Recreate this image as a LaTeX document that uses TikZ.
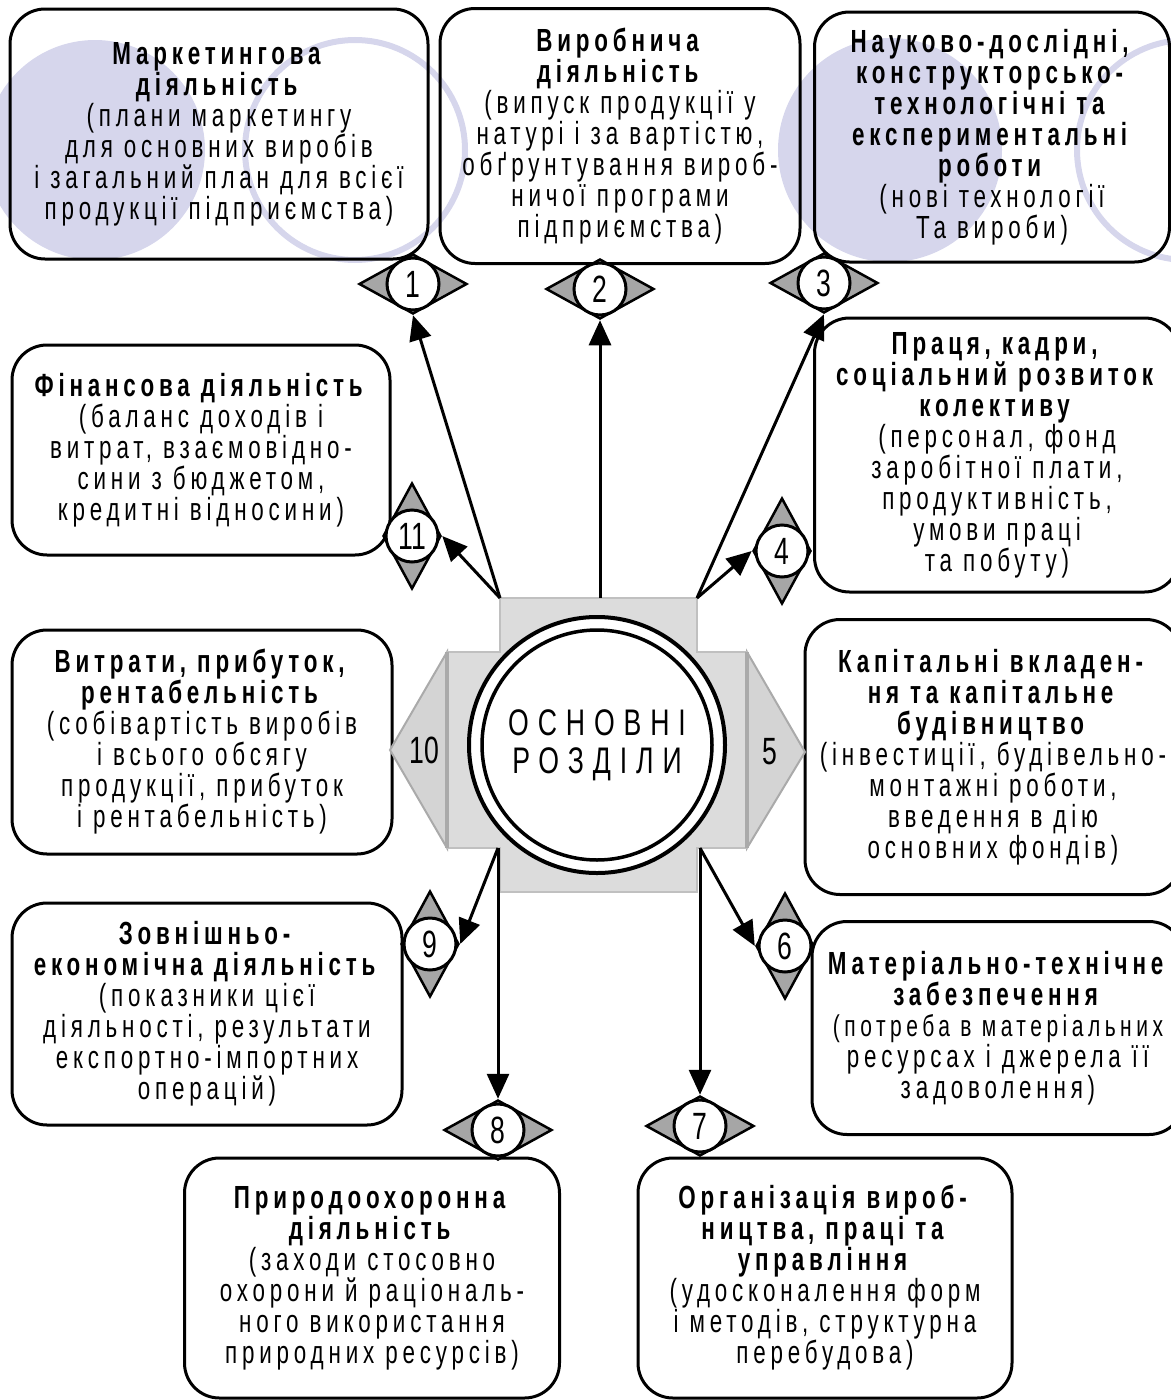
\documentclass[tikz,border=0pt]{standalone}
\usepackage{fontspec}
\setmainfont{Liberation Sans}[FakeStretch=0.7,LetterSpace=15]
\newfontfamily\numfont{Liberation Sans}[FakeStretch=0.7]
\newfontfamily\centrefont{Liberation Sans}[FakeStretch=0.72,LetterSpace=24]
\usetikzlibrary{shapes.geometric,arrows.meta}
\definecolor{lavender}{RGB}{214,214,236}
\definecolor{crossgrey}{RGB}{220,220,220}
\definecolor{crossedge}{RGB}{192,192,192}
\definecolor{tipgrey}{RGB}{212,212,212}
\definecolor{tipedge}{RGB}{170,170,170}
\tikzset{
  box/.style = {draw, line width=3pt, rounded corners=35pt, align=center,
    inner sep=0pt, font=\fontsize{32}{31}\selectfont},
  halo/.style = {lavender, line width=6pt},
  hdiamond/.style = {diamond, draw, line width=2.5pt, fill=gray!70,
    minimum width=108pt, minimum height=60pt, inner sep=0pt},
  vdiamond/.style = {diamond, draw, line width=2.5pt, fill=gray!70,
    minimum width=58pt, minimum height=106pt, inner sep=0pt},
  numcirc/.style = {circle, draw, line width=3pt, fill=white, minimum size=52pt,
    inner sep=0pt, font=\numfont\fontsize{38}{38}\selectfont},
  arr/.style = {line width=3pt, -{Triangle[length=25pt,width=22pt]}}
}

\begin{document}
\begin{tikzpicture}[x=1pt,y=-1pt]
  \useasboundingbox (0,0) rectangle (1170,1400);
  % lavender discs behind the top row
  \fill[lavender] (95,150) circle[radius=110];
  \draw[halo] (355,150) circle[radius=110];
  \fill[lavender] (890,150) circle[radius=112];
  \draw[halo] (1187,150) circle[radius=110];

  % boxes
  \node[box, minimum width=418pt, minimum height=250pt] (b1) at (219,134)
    {\textbf{Маркетингова}\\\textbf{діяльність}\\(плани маркетингу\\для основних виробів\\і загальний план для всієї\\продукції підприємства)};
  \node[box, minimum width=360pt, minimum height=255pt] (b2) at (620,136)
    {\textbf{Виробнича}\\\textbf{діяльність}\\(випуск продукції у\\натурі і за вартістю,\\обґрунтування вироб-\\ничої програми\\підприємства)};
  \node[box, minimum width=355pt, minimum height=250pt] (b3) at (992,137)
    {\textbf{Науково-дослідні,}\\\textbf{конструкторсько-}\\\textbf{технологічні та}\\\textbf{експериментальні}\\\textbf{роботи}\\(нові технології\\Та вироби)};
  \node[box, minimum width=365pt, minimum height=274pt] (b4) at (997,455)
    {\textbf{Праця, кадри,}\\\textbf{соціальний розвиток}\\\textbf{колективу}\\(персонал, фонд\\заробітної плати,\\продуктивність,\\умови праці\\та побуту)};
  \node[box, minimum width=376pt, minimum height=275pt] (b5) at (993,757)
    {\textbf{Капітальні вкладен-}\\\textbf{ня та капітальне}\\\textbf{будівництво}\\(інвестиції, будівельно-\\монтажні роботи,\\введення в дію\\основних фондів)};
  \node[box, minimum width=372pt, minimum height=213pt] (b6) at (998,1028)
    {\textbf{Матеріально-технічне}\\\textbf{забезпечення}\\{\fontsize{30}{31}\selectfont (потреба в матеріальних}\\ресурсах і джерела її\\задоволення)};
  \node[box, minimum width=374pt, minimum height=240pt] (b7) at (825,1278)
    {\textbf{Організація вироб-}\\\textbf{ництва, праці та}\\\textbf{управління}\\(удосконалення форм\\і методів, структурна\\перебудова)};
  \node[box, minimum width=375pt, minimum height=240pt] (b8) at (372,1278)
    {\textbf{Природоохоронна}\\\textbf{діяльність}\\(заходи стосовно\\охорони й раціональ-\\ного використання\\природних ресурсів)};
  \node[box, minimum width=390pt, minimum height=222pt] (b9) at (207,1014)
    {\textbf{Зовнішньо-}\\\textbf{економічна діяльність}\\(показники цієї\\діяльності, результати\\експортно-імпортних\\операцій)};
  \node[box, minimum width=380pt, minimum height=224pt] (b10) at (202,742)
    {\textbf{Витрати, прибуток,}\\\textbf{рентабельність}\\(собівартість виробів\\і всього обсягу\\продукції, прибуток\\і рентабельність)};
  \node[box, minimum width=378pt, minimum height=210pt] (b11) at (201,450)
    {\textbf{Фінансова діяльність}\\(баланс доходів і\\витрат, взаємовідно-\\сини з бюджетом,\\кредитні відносини)};

  % grey cross with the two side points
  \filldraw[fill=tipgrey, draw=tipedge, line width=2pt] (447,652) -- (390,750) -- (447,848) -- cycle;
  \filldraw[fill=tipgrey, draw=tipedge, line width=2pt] (747,652) -- (805,752) -- (747,848) -- cycle;
  \filldraw[fill=crossgrey, draw=crossedge, line width=1.5pt]
    (500,598) -- (697,598) -- (697,652) -- (747,652) -- (747,848) -- (697,848)
    -- (697,892) -- (500,892) -- (500,848) -- (447,848) -- (447,652) -- (500,652) -- cycle;
  \draw[tipedge, line width=4pt] (447,652) -- (447,848) (747,652) -- (747,848);
  \node[font=\numfont\fontsize{38}{38}\selectfont] (n10) at (424,750) {10};
  \node[font=\numfont\fontsize{38}{38}\selectfont] (n5) at (770,752) {5};

  % centre
  \node[circle, draw, line width=4pt, fill=white, minimum size=256pt] (centre) at (597,745) {};
  \node[circle, draw, line width=3.5pt, minimum size=230pt, align=center,
    font=\centrefont\fontsize{37}{38}\selectfont] (core) at (centre) {ОСНОВНІ\\РОЗДІЛИ};
  \coordinate (c-nw) at (500,598);
  \coordinate (c-n) at (600,598);
  \coordinate (c-ne) at (697,598);
  \coordinate (c-sw) at (498,848);
  \coordinate (c-se) at (700,848);

  % numbered markers
  \foreach \n/\x/\y/\s in {1/413/284/hdiamond, 2/600/289/hdiamond, 3/824/283/hdiamond,
      4/782/551/vdiamond, 6/785/946/vdiamond, 7/700/1126/hdiamond,
      8/498/1130/hdiamond, 9/430/944/vdiamond, 11/412/536/vdiamond}
    {\node[\s] (d\n) at (\x,\y) {};
     \node[numcirc] (m\n) at (d\n) {\n};}

  % arrows
  \foreach \a/\b in {c-nw/d1.south, c-n/d2.south, c-ne/d3.south, c-ne/d4.west,
      c-se/d6.west, c-se/d7.north, c-sw/d8.north, c-sw/d9.east, c-nw/d11.east}
    \draw[arr] (\a) -- (\b);
\end{tikzpicture}
\end{document}
